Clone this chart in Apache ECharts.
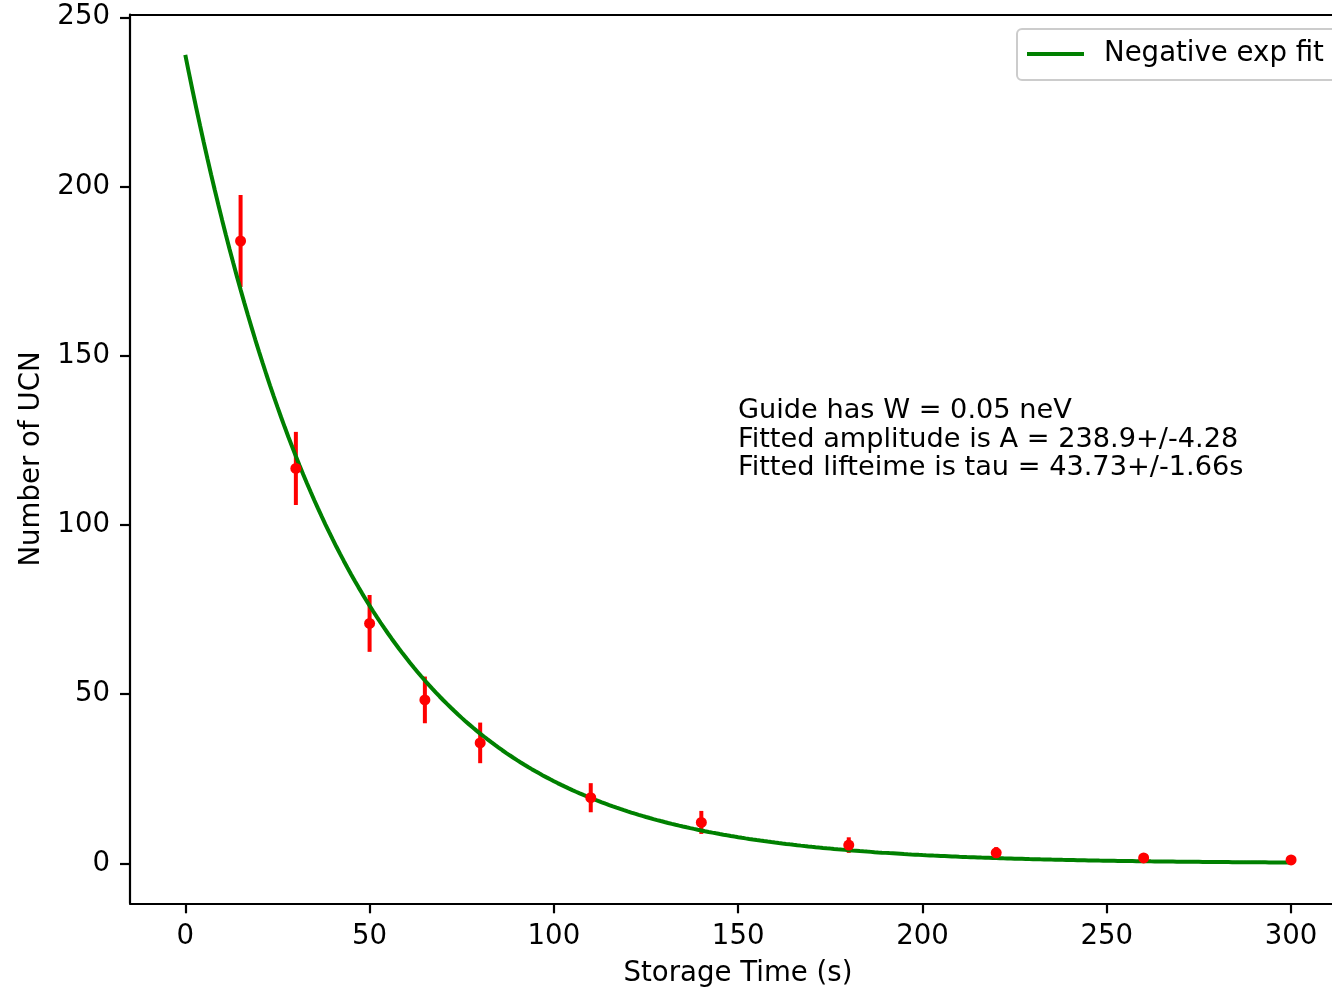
<!DOCTYPE html>
<html>
<head>
<meta charset="utf-8">
<script src="https://cdn.jsdelivr.net/npm/echarts@6/dist/echarts.min.js"></script>
<style>
html,body{margin:0;padding:0;background:#fff;}
#chart{width:1332px;height:994px;}
</style>
</head>
<body>
<div id="chart"></div>
<script>
// Measured data (storage time in s, UCN counts, error bar half-lengths)
const times  = [15, 30, 50, 65, 80, 110, 140, 180, 220, 260, 300];
const counts = [183.9, 116.7, 70.9, 48.3, 35.6, 19.4, 12.1, 5.4, 3.1, 1.6, 1.0];
const errors = [13.6, 10.8, 8.4, 6.9, 6.0, 4.3, 3.4, 2.3, 1.7, 1.2, 1.0];

// Fit parameters (from annotation)
const A = 238.9;
const TAU = 43.73;

const xTicks = [0, 50, 100, 150, 200, 250, 300];
const yTicks = [0, 50, 100, 150, 200, 250];

const annotationLines = [
  'Guide has W = 0.05 neV',
  'Fitted amplitude is A = 238.9+/-4.28',
  'Fitted lifteime is tau = 43.73+/-1.66s'
];

const fitCurve = [];
for (let t = 0; t <= 300; t += 1) fitCurve.push([t, A * Math.exp(-t / TAU)]);

const points = times.map((t, i) => [t, counts[i]]);
const errData = times.map((t, i) => [t, counts[i] - errors[i], counts[i] + errors[i]]);

const FONT = 'DejaVu Sans';
const FS = 27.6;

const chart = echarts.init(document.getElementById('chart'), null, {renderer: 'canvas'});
chart.setOption({
  animation: false,
  backgroundColor: '#ffffff',
  textStyle: {fontFamily: FONT},
  grid: {left: 130, right: 0, top: 14.7, bottom: 90.7},
  legend: {
    left: 1017, top: 29,
    padding: [11, 14, 12, 10],
    borderColor: '#cccccc', borderWidth: 2, borderRadius: 5,
    backgroundColor: 'rgba(255,255,255,0.8)',
    itemWidth: 57, itemHeight: 4,
    textStyle: {fontFamily: FONT, fontSize: FS, color: '#000', padding: [0, 0, 0, 15]},
    data: [{name: 'Negative exp fit', icon: 'rect'}]
  },
  xAxis: [{
    type: 'value', min: -15, max: 311.1,
    name: 'Storage Time (s)', nameLocation: 'middle', nameGap: 57,
    nameTextStyle: {fontFamily: FONT, fontSize: FS, color: '#000', padding: [0, 0, 0, 14]},
    axisLine: {show: true, onZero: false, lineStyle: {color: '#000', width: 2.2}},
    axisTick: {show: true, length: 10, lineStyle: {color: '#000', width: 2.2}, customValues: xTicks},
    axisLabel: {fontFamily: FONT, fontSize: FS, color: '#000', margin: 20, customValues: xTicks},
    splitLine: {show: false}
  }, {
    type: 'value', min: -15, max: 311.1, position: 'top',
    axisLine: {show: true, onZero: false, lineStyle: {color: '#000', width: 2.2}},
    axisTick: {show: false}, axisLabel: {show: false}, splitLine: {show: false}
  }],
  yAxis: {
    type: 'value', min: -11.8, max: 250.77,
    name: 'Number of UCN', nameLocation: 'middle', nameGap: 84,
    nameTextStyle: {fontFamily: FONT, fontSize: FS, color: '#000'},
    axisLine: {show: true, onZero: false, lineStyle: {color: '#000', width: 2.2}},
    axisTick: {show: true, length: 10, lineStyle: {color: '#000', width: 2.2}, customValues: yTicks},
    axisLabel: {fontFamily: FONT, fontSize: FS, color: '#000', margin: 20, padding: [4, 0, 0, 0], customValues: yTicks},
    splitLine: {show: false}
  },
  graphic: [{
    type: 'text', left: 738, top: 397, z: 100,
    style: {
      text: annotationLines.join('\n'),
      font: '27.2px "' + FONT + '"',
      lineHeight: 28.5,
      fill: '#000'
    }
  }],
  series: [
    {
      name: 'errors', type: 'custom', z: 2,
      data: errData,
      renderItem: function (params, api) {
        const lo = api.coord([api.value(0), api.value(1)]);
        const hi = api.coord([api.value(0), api.value(2)]);
        return {
          type: 'line',
          shape: {x1: lo[0], y1: lo[1], x2: hi[0], y2: hi[1]},
          style: {stroke: '#ff0000', lineWidth: 4}
        };
      }
    },
    {
      name: 'Negative exp fit', type: 'line', z: 3,
      data: fitCurve, showSymbol: false, symbol: 'none', smooth: false,
      lineStyle: {color: '#008000', width: 4},
      itemStyle: {color: '#008000'}
    },
    {
      name: 'data', type: 'scatter', z: 4,
      data: points, symbol: 'circle', symbolSize: 11,
      itemStyle: {color: '#ff0000', opacity: 1}
    }
  ]
});
</script>
</body>
</html>
